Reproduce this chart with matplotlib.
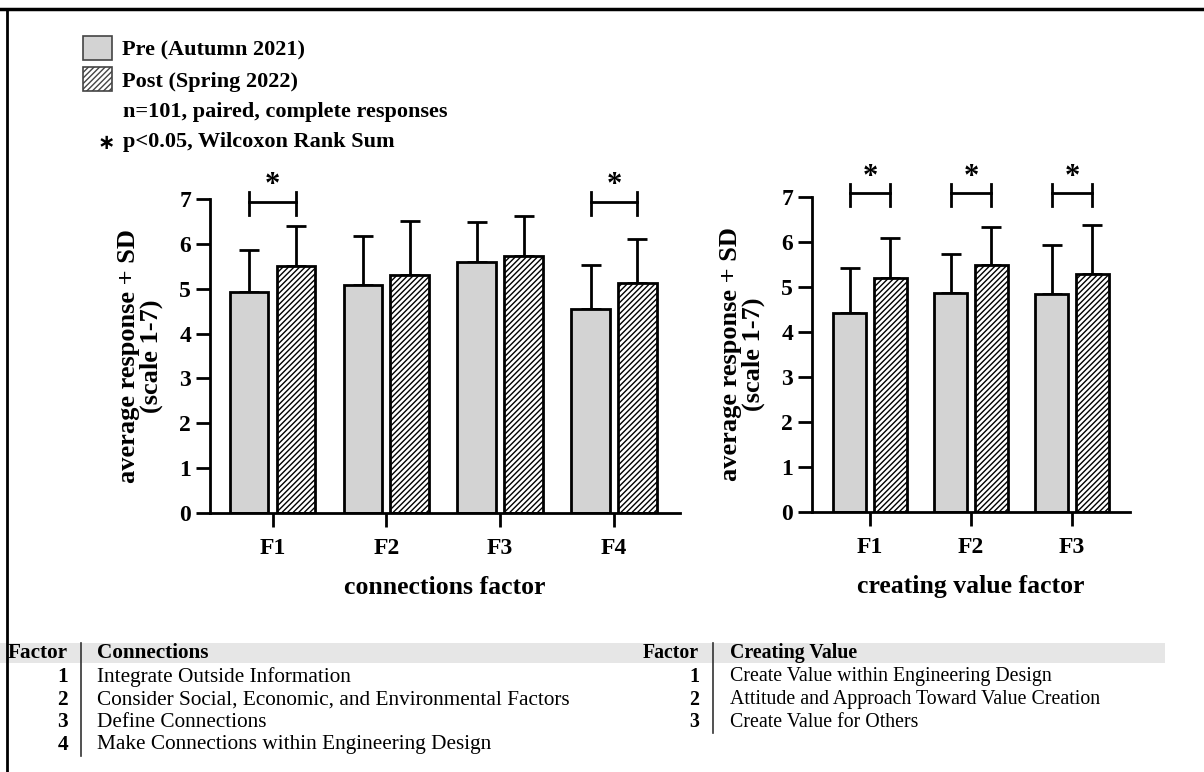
import numpy as np
import matplotlib.pyplot as plt
from matplotlib.patches import Rectangle, Patch
from matplotlib.lines import Line2D

plt.rcParams['font.family'] = ['Liberation Serif', 'DejaVu Serif']
plt.rcParams['font.weight'] = 'bold'
plt.rcParams['hatch.linewidth'] = 1.0

# --- данные ---
conn_labels = ['F1', 'F2', 'F3', 'F4']
conn_pre = [4.93, 5.09, 5.59, 4.54]
conn_pre_sd = [0.94, 1.09, 0.89, 0.99]
conn_post = [5.51, 5.30, 5.74, 5.12]
conn_post_sd = [0.88, 1.22, 0.87, 0.99]
conn_sig = [True, False, False, True]

val_labels = ['F1', 'F2', 'F3']
val_pre = [4.43, 4.87, 4.84]
val_pre_sd = [0.99, 0.86, 1.09]
val_post = [5.21, 5.48, 5.28]
val_post_sd = [0.89, 0.85, 1.09]
val_sig = [True, True, True]

conn_table = ['Integrate Outside Information',
              'Consider Social, Economic, and Environmental Factors',
              'Define Connections',
              'Make Connections within Engineering Design']
val_table = ['Create Value within Engineering Design',
             'Attitude and Approach Toward Value Creation',
             'Create Value for Others']

W, H = 1204, 772
fig = plt.figure(figsize=(W / 100, H / 100), dpi=100)

def fx(px):
    return px / W

def fy(py):
    return 1 - py / H

pre_color = '#d3d3d3'


def draw_panel(ax, labels, pre, pre_sd, post, post_sd, sig, width, off, xlabel, yb):
    x = np.arange(len(labels))
    ax.errorbar(x - off, pre, yerr=[np.zeros(len(pre)), pre_sd], fmt='none',
                ecolor='black', elinewidth=2, capsize=7, capthick=2, zorder=1)
    ax.errorbar(x + off, post, yerr=[np.zeros(len(post)), post_sd], fmt='none',
                ecolor='black', elinewidth=2, capsize=7, capthick=2, zorder=1)
    ax.bar(x - off, pre, width, color=pre_color, edgecolor='black', linewidth=2, zorder=2)
    ax.bar(x + off, post, width, color='white', edgecolor='black', linewidth=2,
           hatch='//////', zorder=2)
    # скобки значимости
    for i, s in enumerate(sig):
        if not s:
            continue
        ax.plot([i - off, i + off], [yb, yb], color='black', lw=2, clip_on=False)
        ax.plot([i - off, i - off], [yb - 0.28, yb + 0.22], color='black', lw=2, clip_on=False)
        ax.plot([i + off, i + off], [yb - 0.28, yb + 0.22], color='black', lw=2, clip_on=False)
        ax.text(i, yb + 0.36, '*', ha='center', va='center', fontsize=22, fontweight='bold',
                clip_on=False)
    ax.set_ylim(0, 7)
    ax.set_yticks(range(8))
    ax.set_xticks(x)
    ax.set_xticklabels(labels)
    ax.spines['top'].set_visible(False)
    ax.spines['right'].set_visible(False)
    ax.spines['left'].set_linewidth(2)
    ax.spines['bottom'].set_linewidth(2)
    ax.tick_params(axis='both', width=2, length=10, labelsize=17)
    ax.tick_params(axis='x', length=10, pad=8)
    ax.set_ylabel('average response + SD\n(scale 1-7)', fontsize=19, fontweight='bold',
                  linespacing=0.95, labelpad=12)
    ax.set_xlabel(xlabel, fontsize=18.5, fontweight='bold', labelpad=12)


ax1 = fig.add_axes([fx(210), fy(513), fx(470), (513 - 199) / H])
draw_panel(ax1, conn_labels, conn_pre, conn_pre_sd, conn_post, conn_post_sd, conn_sig,
           0.34, 0.206, 'connections factor', 6.93)
ax1.set_xlim(-0.55, 3.58)

ax2 = fig.add_axes([fx(812), fy(512), fx(318), (512 - 197) / H])
draw_panel(ax2, val_labels, val_pre, val_pre_sd, val_post, val_post_sd, val_sig,
           0.33, 0.2, 'creating value factor', 7.08)
ax2.set_xlim(-0.574, 2.574)

# легенда
handles = [Patch(facecolor=pre_color, edgecolor='#444444', linewidth=1.2),
           Patch(facecolor='white', edgecolor='#444444', linewidth=1.2, hatch='//////')]
fig.legend(handles, ['Pre (Autumn 2021)', 'Post (Spring 2022)'], loc='upper left',
           bbox_to_anchor=(fx(83), fy(36)), frameon=False, fontsize=16,
           handlelength=1.3, handleheight=1.3, handletextpad=0.45, labelspacing=0.3,
           borderpad=0, borderaxespad=0)
fig.text(fx(123), fy(112), 'n=101, paired, complete responses', fontsize=16,
         fontweight='bold', va='center')
fig.text(fx(98), fy(143), '∗', fontsize=15, fontweight='bold', va='center',
         family=['DejaVu Sans'])
fig.text(fx(123), fy(142), 'p<0.05, Wilcoxon Rank Sum', fontsize=16,
         fontweight='bold', va='center')

# рамка
fig.add_artist(Line2D([fx(0), fx(W)], [fy(9), fy(9)], color='black', lw=2.5))
fig.add_artist(Line2D([fx(7), fx(7)], [fy(9), fy(H)], color='black', lw=2))

# таблица факторов
fig.add_artist(Rectangle((fx(0), fy(663)), fx(1165), (663 - 643) / H,
                         facecolor='#e6e6e6', edgecolor='none'))
row_y0 = 653
row_y1 = 677
row_step = 22.6
tfs = 15.3
tfs2 = 14.3
fig.text(fx(8), fy(row_y0), 'Factor', fontsize=tfs, fontweight='bold', va='center')
fig.text(fx(97), fy(row_y0), 'Connections', fontsize=tfs, fontweight='bold', va='center')
fig.add_artist(Line2D([fx(81), fx(81)],
                      [fy(643), fy(row_y1 + row_step * (len(conn_table) - 1) + 11)],
                      color='#333333', lw=1.2))
for i, t in enumerate(conn_table):
    yy = fy(row_y1 + row_step * i)
    fig.text(fx(68), yy, str(i + 1), fontsize=tfs, fontweight='bold', va='center', ha='right')
    fig.text(fx(97), yy, t, fontsize=tfs, fontweight='normal', va='center')

fig.text(fx(699), fy(row_y0), 'Factor', fontsize=tfs2, fontweight='bold', va='center', ha='right')
fig.text(fx(730), fy(row_y0), 'Creating Value', fontsize=tfs2, fontweight='bold', va='center')
fig.add_artist(Line2D([fx(713), fx(713)],
                      [fy(643), fy(row_y1 + row_step * (len(val_table) - 1) + 11)],
                      color='#333333', lw=1.2))
for i, t in enumerate(val_table):
    yy = fy(row_y1 + row_step * i)
    fig.text(fx(699), yy, str(i + 1), fontsize=tfs2, fontweight='bold', va='center', ha='right')
    fig.text(fx(730), yy, t, fontsize=tfs2, fontweight='normal', va='center')

fig.savefig('out.png', dpi=100)
